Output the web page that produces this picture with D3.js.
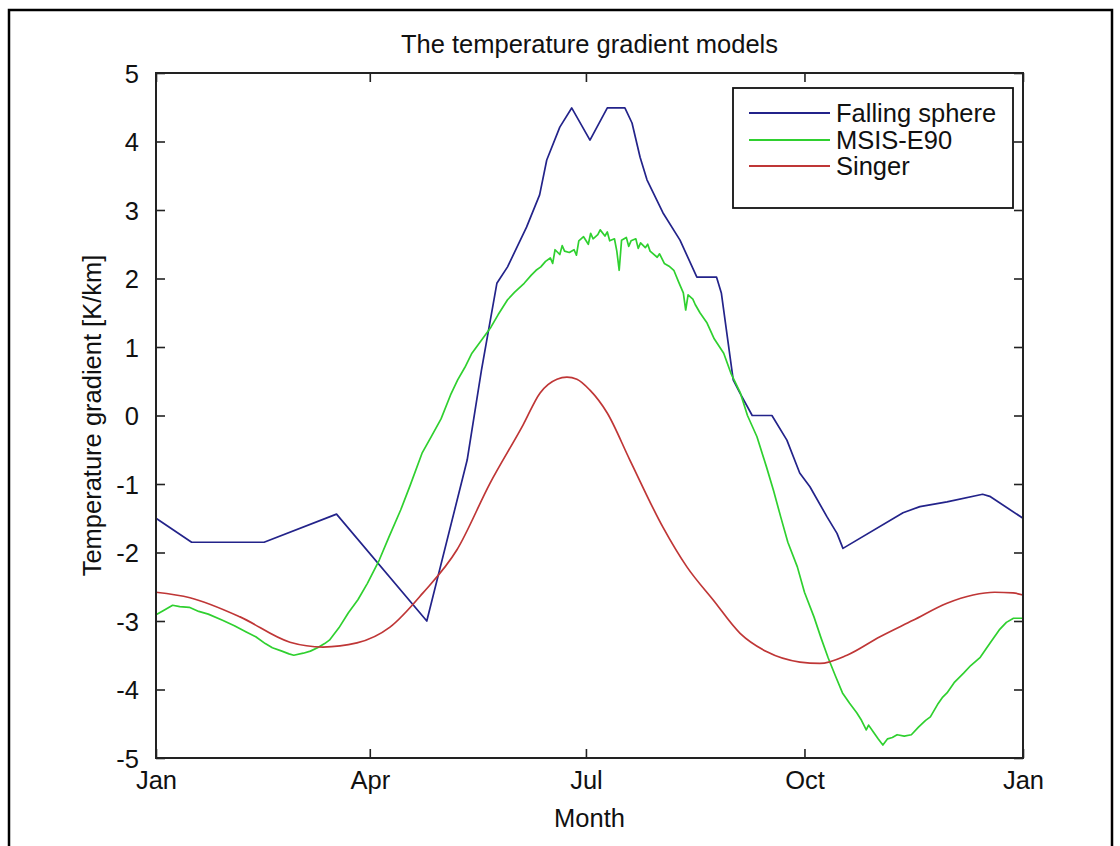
<!DOCTYPE html>
<html>
<head>
<meta charset="utf-8">
<script src="https://cdn.jsdelivr.net/npm/d3@7"></script>
<style>
html,body{margin:0;padding:0;background:#fff;}
svg{display:block;}
text{font-family:"Liberation Sans",Arial,sans-serif;fill:#111;}
</style>
</head>
<body>
<svg id="chart" width="1120" height="846"></svg>
<script>
// ---- data (day of year, value in K/km) ----
const monthTickDays = [0, 90, 181, 273, 365];
const monthTickLabels = ["Jan", "Apr", "Jul", "Oct", "Jan"];
const yTickValues = [-5, -4, -3, -2, -1, 0, 1, 2, 3, 4, 5];

const seriesNames = ["Falling sphere", "MSIS-E90", "Singer"];

const fallingDays = [0, 15, 45.5, 76, 114, 131, 137, 143.5, 148, 156, 161.5, 164.5, 170, 175, 182.7, 190, 197.4, 200.4, 203.8, 206.7, 213.4, 220.6, 227.7, 236, 238, 243, 245.8, 251, 259.3, 265.6, 271, 275.3, 282.5, 286.7, 289.2, 314.5, 321.6, 333, 348, 351, 365];
const fallingVals = [-1.5, -1.85, -1.85, -1.44, -3.0, -0.65, 0.66, 1.93, 2.17, 2.75, 3.22, 3.73, 4.21, 4.49, 4.02, 4.49, 4.49, 4.27, 3.77, 3.44, 2.96, 2.56, 2.02, 2.02, 1.79, 0.52, 0.33, 0.0, 0.0, -0.36, -0.84, -1.04, -1.48, -1.72, -1.94, -1.42, -1.33, -1.26, -1.15, -1.18, -1.5];

const msisDays = [0, 3, 7, 10, 14, 18, 22, 28, 33, 38, 42, 46, 49, 53, 56, 58, 62, 65, 68, 71, 73, 77, 81, 85, 89, 94, 98, 103, 107, 112, 116, 120, 124, 127, 130, 133, 137, 141, 144, 148, 151, 155, 158, 160, 162, 164, 166, 167, 168, 170, 171, 172, 174, 176, 177, 178, 180, 182, 183, 184, 186, 187, 189, 190, 191, 193, 194, 195, 196, 198, 199, 200, 202, 203, 204, 206, 207, 208, 211, 212, 214, 216, 218, 220, 222, 223, 224, 226, 227, 229, 232, 235, 239, 242, 246, 249, 253, 257, 260, 263, 266, 270, 273, 277, 280, 283, 286, 289, 292, 295, 297, 299, 300, 302, 304, 306, 308, 310, 312, 315, 318, 321, 324, 326, 329, 331, 333, 336, 340, 343, 347, 351, 355, 358, 361, 365];
const msisVals = [-2.91, -2.85, -2.77, -2.79, -2.80, -2.86, -2.90, -2.99, -3.07, -3.16, -3.23, -3.33, -3.39, -3.44, -3.48, -3.50, -3.47, -3.44, -3.39, -3.33, -3.28, -3.10, -2.88, -2.69, -2.45, -2.11, -1.78, -1.38, -1.02, -0.55, -0.30, -0.05, 0.30, 0.52, 0.70, 0.91, 1.10, 1.29, 1.47, 1.69, 1.80, 1.93, 2.05, 2.12, 2.17, 2.25, 2.30, 2.22, 2.42, 2.35, 2.48, 2.40, 2.38, 2.42, 2.34, 2.55, 2.61, 2.50, 2.66, 2.58, 2.64, 2.71, 2.62, 2.68, 2.55, 2.58, 2.40, 2.12, 2.56, 2.60, 2.47, 2.55, 2.58, 2.44, 2.52, 2.45, 2.50, 2.40, 2.31, 2.36, 2.22, 2.18, 2.12, 1.95, 1.79, 1.54, 1.76, 1.70, 1.62, 1.50, 1.35, 1.12, 0.91, 0.62, 0.33, 0.0, -0.31, -0.75, -1.10, -1.48, -1.85, -2.21, -2.58, -2.94, -3.25, -3.54, -3.80, -4.05, -4.20, -4.34, -4.45, -4.59, -4.52, -4.62, -4.72, -4.81, -4.72, -4.70, -4.66, -4.68, -4.66, -4.55, -4.45, -4.40, -4.22, -4.12, -4.05, -3.90, -3.76, -3.65, -3.53, -3.33, -3.13, -3.02, -2.96, -2.96];

const singerDays = [0, 14.3, 35.4, 56.4, 70.3, 84.6, 98.5, 112.4, 126.7, 140.6, 154.5, 161.7, 168.8, 173, 177.2, 182.7, 189.9, 199.5, 213.4, 223.5, 234.5, 245.9, 257.2, 271.1, 279.5, 290.9, 304.8, 318.7, 333, 344, 353, 360.8, 365];
const singerVals = [-2.58, -2.66, -2.94, -3.31, -3.38, -3.32, -3.09, -2.59, -1.96, -0.99, -0.14, 0.33, 0.53, 0.56, 0.53, 0.37, 0.04, -0.65, -1.63, -2.21, -2.69, -3.18, -3.45, -3.60, -3.62, -3.50, -3.23, -2.99, -2.74, -2.62, -2.58, -2.59, -2.62];

// ---- layout ----
const plot = {left: 156, right: 1023, top: 73, bottom: 758};
const colors = ["#23238a", "#2fd02f", "#bf3636"];
const FS = 25.5;

const svg = d3.select("#chart");

// outer frame
svg.append("rect").attr("x", 9).attr("y", 10).attr("width", 1103).attr("height", 860)
  .attr("fill", "#fff").attr("stroke", "#000").attr("stroke-width", 2.5);

const x = d3.scaleLinear().domain([0, 365]).range([plot.left, plot.right]);
const y = d3.scaleLinear().domain([-5, 5]).range([plot.bottom, plot.top]);

const tickLen = 9;

// axes with inward ticks
const gx = svg.append("g").attr("transform", `translate(0,${plot.bottom})`)
  .call(d3.axisBottom(x).tickValues(monthTickDays).tickFormat((d, i) => monthTickLabels[i])
    .tickSizeInner(-tickLen).tickSizeOuter(0));
const gxTop = svg.append("g").attr("transform", `translate(0,${plot.top})`)
  .call(d3.axisTop(x).tickValues(monthTickDays).tickFormat("").tickSizeInner(-tickLen).tickSizeOuter(0));
const gy = svg.append("g").attr("transform", `translate(${plot.left},0)`)
  .call(d3.axisLeft(y).tickValues(yTickValues).tickFormat(d => String(d))
    .tickSizeInner(-tickLen).tickSizeOuter(0).tickPadding(tickLen + 8));
const gyR = svg.append("g").attr("transform", `translate(${plot.right},0)`)
  .call(d3.axisRight(y).tickValues(yTickValues).tickFormat("").tickSizeInner(-tickLen).tickSizeOuter(0));

[gx, gxTop, gy, gyR].forEach(g => {
  g.select(".domain").remove();
  g.selectAll(".tick line").attr("stroke", "#222").attr("stroke-width", 1.6);
  g.selectAll(".tick text").attr("font-size", FS).attr("fill", "#111")
    .attr("font-family", "'Liberation Sans', Arial, sans-serif");
});
gx.selectAll(".tick text").attr("dy", 0).attr("y", 31);
gy.selectAll(".tick text").attr("dy", "0.36em");

// series
const line = d3.line().x(d => x(d[0])).y(d => y(d[1]));
const seriesData = [
  d3.zip(fallingDays, fallingVals),
  d3.zip(msisDays, msisVals),
  d3.zip(singerDays, singerVals)
];
const curves = [d3.curveLinear, d3.curveLinear, d3.curveMonotoneX];
seriesData.forEach((data, i) => {
  svg.append("path").datum(data)
    .attr("fill", "none").attr("stroke", colors[i]).attr("stroke-width", 1.7)
    .attr("stroke-linejoin", "round")
    .attr("d", line.curve(curves[i]));
});

// axes box
svg.append("rect").attr("x", plot.left).attr("y", plot.top)
  .attr("width", plot.right - plot.left).attr("height", plot.bottom - plot.top)
  .attr("fill", "none").attr("stroke", "#222").attr("stroke-width", 2);

// legend
const leg = {x: 733, y: 88, w: 280, h: 120};
svg.append("rect").attr("x", leg.x).attr("y", leg.y).attr("width", leg.w).attr("height", leg.h)
  .attr("fill", "#fff").attr("stroke", "#111").attr("stroke-width", 1.8);
const rowY = [113, 140, 166];
seriesNames.forEach((name, i) => {
  svg.append("line").attr("x1", 749).attr("x2", 830).attr("y1", rowY[i]).attr("y2", rowY[i])
    .attr("stroke", colors[i]).attr("stroke-width", 1.8);
  svg.append("text").attr("x", 836).attr("y", rowY[i] + 9).attr("font-size", FS).text(name);
});

// title and labels
svg.append("text").attr("x", (plot.left + plot.right) / 2).attr("y", 53)
  .attr("text-anchor", "middle").attr("font-size", FS).text("The temperature gradient models");
svg.append("text").attr("x", (plot.left + plot.right) / 2).attr("y", 827)
  .attr("text-anchor", "middle").attr("font-size", FS).text("Month");
svg.append("text").attr("transform", `translate(101,${(plot.top + plot.bottom) / 2}) rotate(-90)`)
  .attr("text-anchor", "middle").attr("font-size", FS).text("Temperature gradient [K/km]");
</script>
</body>
</html>
